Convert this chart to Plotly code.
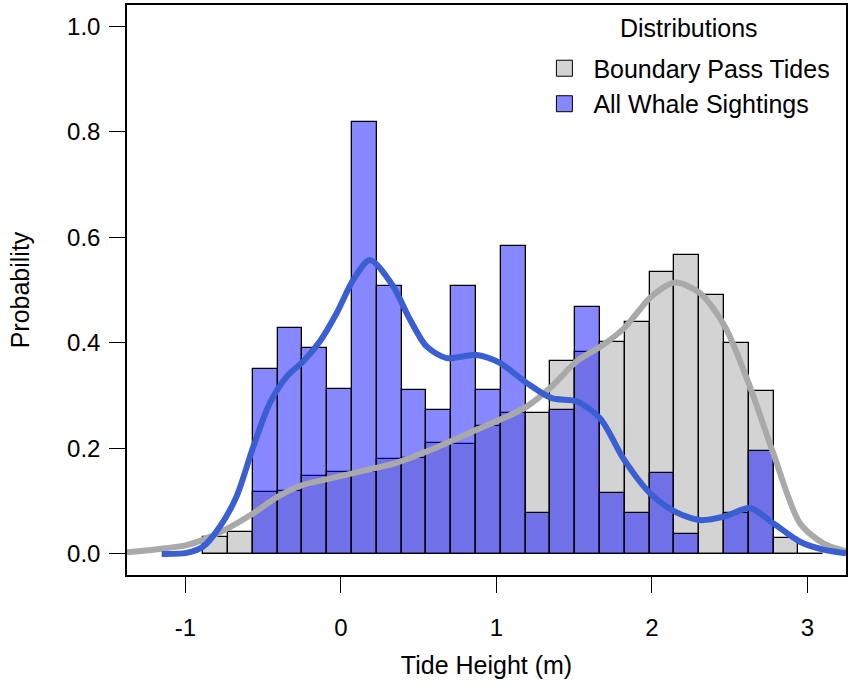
import numpy as np
import plotly.graph_objects as go

# ---------------- data ----------------
bin_start = -0.886
bin_width = 0.1595
n_bins = 25

tides_prob = [0.032, 0.041, 0.118, 0.120, 0.148, 0.155, 0.156, 0.180, 0.182, 0.211,
              0.208, 0.243, 0.267, 0.267, 0.366, 0.382, 0.402, 0.440, 0.534, 0.567,
              0.491, 0.399, 0.308, 0.031, 0.0]
whale_prob = [0.0, 0.0, 0.351, 0.428, 0.390, 0.312, 0.819, 0.507, 0.311, 0.273,
              0.507, 0.311, 0.584, 0.077, 0.272, 0.467, 0.115, 0.077, 0.154, 0.037,
              0.0, 0.077, 0.195, 0.0, 0.0]

tides_kde_x = [-1.376, -1.207, -1.0, -0.886, -0.75, -0.563, -0.403, -0.242, -0.082, 0.122,
               0.35, 0.551, 0.873, 1.022, 1.194, 1.355, 1.516, 1.666, 1.75, 1.822, 1.9,
               1.987, 2.148, 2.309, 2.469, 2.630, 2.780, 2.952, 3.102, 3.248]
tides_kde_y = [0.003, 0.008, 0.016, 0.027, 0.045, 0.077, 0.109, 0.131, 0.142, 0.156,
               0.172, 0.194, 0.235, 0.254, 0.279, 0.317, 0.365, 0.392, 0.41, 0.428, 0.455,
               0.485, 0.514, 0.494, 0.431, 0.317, 0.191, 0.058, 0.020, 0.005]

whale_kde_x = [-1.153, -0.992, -0.886, -0.778, -0.671, -0.564, -0.457, -0.349, -0.242, -0.135,
               -0.028, 0.079, 0.186, 0.336, 0.444, 0.551, 0.680, 0.873, 1.022, 1.194,
               1.355, 1.516, 1.666, 1.822, 1.987, 2.148, 2.309, 2.469, 2.630, 2.780,
               2.952, 3.102, 3.248]
whale_kde_y = [0.0, 0.002, 0.014, 0.052, 0.109, 0.203, 0.286, 0.336, 0.365, 0.403,
               0.456, 0.519, 0.557, 0.507, 0.444, 0.393, 0.371, 0.377, 0.362, 0.324,
               0.295, 0.289, 0.257, 0.178, 0.115, 0.080, 0.064, 0.071, 0.087, 0.058,
               0.023, 0.008, 0.001]

x_ticks = [-1, 0, 1, 2, 3]
x_ticklabels = ["-1", "0", "1", "2", "3"]
y_ticks = [0.0, 0.2, 0.4, 0.6, 0.8, 1.0]
y_ticklabels = ["0.0", "0.2", "0.4", "0.6", "0.8", "1.0"]

series_names = ["Boundary Pass Tides", "All Whale Sightings"]
legend_title = "Distributions"
x_title = "Tide Height (m)"
y_title = "Probability"

# ---------------- styling ----------------
FONT = "Liberation Sans, Arial, Helvetica, sans-serif"
GRAY_FILL = "#D3D3D3"
BLUE_FILL = "rgba(0,0,255,0.47)"
GRAY_LINE = "#A9A9A9"
BLUE_LINE = "#3A5FD2"

centers = bin_start + bin_width * (np.arange(n_bins) + 0.5)

fig = go.Figure()
fig.add_trace(go.Bar(x=centers, y=tides_prob, width=bin_width,
                     marker=dict(color=GRAY_FILL, line=dict(color="black", width=1.3)),
                     showlegend=False, name=series_names[0]))
fig.add_trace(go.Bar(x=centers, y=whale_prob, width=bin_width,
                     marker=dict(color=BLUE_FILL, line=dict(color="black", width=1.3)),
                     showlegend=False, name=series_names[1]))
fig.add_trace(go.Scatter(x=tides_kde_x, y=tides_kde_y, mode="lines",
                         line=dict(color=GRAY_LINE, width=6, shape="spline", smoothing=0.8),
                         showlegend=False))
fig.add_trace(go.Scatter(x=whale_kde_x, y=whale_kde_y, mode="lines",
                         line=dict(color=BLUE_LINE, width=6, shape="spline", smoothing=0.8),
                         showlegend=False))
# legend entries
fig.add_trace(go.Scatter(x=[None], y=[None], mode="markers", name=series_names[0],
                         marker=dict(symbol="square", size=16, color=GRAY_FILL,
                                     line=dict(color="black", width=1))))
fig.add_trace(go.Scatter(x=[None], y=[None], mode="markers", name=series_names[1],
                         marker=dict(symbol="square", size=16, color=BLUE_FILL,
                                     line=dict(color="black", width=1))))

fig.update_layout(
    width=849, height=688,
    margin=dict(l=127, r=3, t=5, b=113, autoexpand=False),
    paper_bgcolor="white", plot_bgcolor="white",
    barmode="overlay", bargap=0,
    font=dict(family=FONT, size=24, color="black"),
    legend=dict(x=0.568, y=0.929, xanchor="left", yanchor="top",
                bgcolor="rgba(0,0,0,0)", font=dict(size=25), tracegroupgap=0,
                itemwidth=48, itemsizing="trace"),
    annotations=[dict(text=legend_title, xref="paper", yref="paper",
                      x=0.7816, y=0.9596, xanchor="center", yanchor="middle",
                      showarrow=False, font=dict(size=25))],
)
fig.update_xaxes(range=[-1.376, 3.248], tickvals=x_ticks, ticktext=x_ticklabels,
                 ticks="outside", ticklen=16,
                 tickwidth=1.3, tickcolor="black", showline=True, mirror=True,
                 linecolor="black", linewidth=1.5, showgrid=False, zeroline=False,
                 tickfont=dict(size=24), ticklabelstandoff=14, automargin=False,
                 title=dict(text=x_title, font=dict(size=25), standoff=17))
fig.update_yaxes(range=[-0.04, 1.04], tickvals=y_ticks, ticktext=y_ticklabels,
                 ticks="outside", ticklen=16, tickwidth=1.3, tickcolor="black",
                 showline=True, mirror=True, linecolor="black", linewidth=1.5,
                 showgrid=False, zeroline=False, tickfont=dict(size=24),
                 ticklabelstandoff=4, automargin=False,
                 title=dict(text=y_title, font=dict(size=25), standoff=30))

fig.write_html("out.html", config={"displayModeBar": False},
               post_script="document.body.style.margin='0px';")
